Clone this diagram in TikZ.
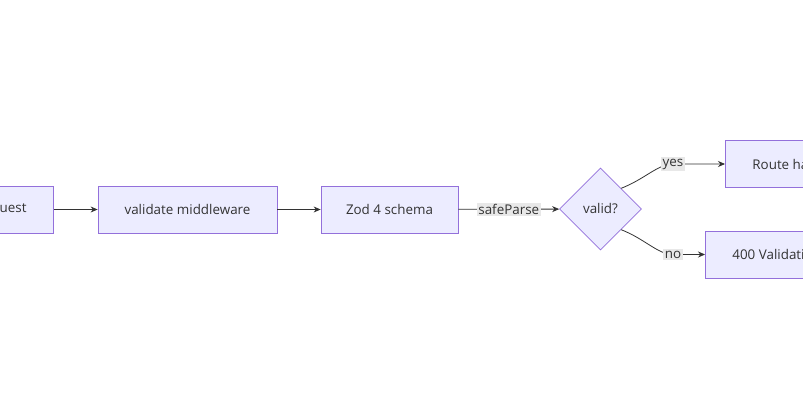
\documentclass[tikz,border=0pt]{standalone}
\usepackage{fontspec}
\setmainfont{Open Sans}
\usepackage{tikz}
\usetikzlibrary{arrows.meta,positioning,shapes.geometric}
\definecolor{nodefill}{HTML}{ECECFF}
\definecolor{nodeline}{HTML}{9370DB}
\definecolor{ink}{HTML}{333333}
\definecolor{tagfill}{HTML}{E8E8E8}

\begin{document}
\begin{tikzpicture}[
  x=1pt,y=-1pt,
  box/.style={draw=nodeline,fill=nodefill,line width=0.8pt,text=ink,
    minimum height=47pt,inner xsep=27pt,font=\fontsize{13.4}{15}\selectfont},
  check/.style={box,shape=diamond,aspect=1,minimum size=82pt,inner sep=0pt},
  flow/.style={-{Stealth[length=7pt,width=6pt]},draw=ink,line width=0.8pt},
  tag/.style={fill=tagfill,text=ink,inner sep=1.5pt,font=\fontsize{13.4}{15}\selectfont}
]
\useasboundingbox (0,0) rectangle (803,420);
\clip (0,0) rectangle (803,420);
\fill[white] (0,0) rectangle (803,420);

\node[box,anchor=east] (request) at (54,209.5) {Request};
\node[box,inner xsep=10pt,minimum width=179pt] (middleware) at (187.5,209.5) {validate middleware};
\node[box,inner xsep=10pt,minimum width=137pt] (schema) at (389.5,209.5) {Zod 4 schema};
\node[check] (valid) at (600.5,209) {valid?};
\node[box,anchor=west] (route) at (725,164) {Route handler};
\node[box,anchor=west] (reject) at (705,254.5) {400 Validation Error};

\draw[flow] (request) -- (middleware);
\draw[flow] (middleware) -- (schema);
\draw[flow] (schema) -- node[tag]{safeParse} (valid);

% branches
\coordinate (yesbend) at (673,164);
\coordinate (nobend) at (673,254.5);
\draw[flow] (valid.north east) .. controls (645,179) and (658,164) .. (yesbend) -- (route.west);
\draw[flow] (valid.south east) .. controls (645,239) and (658,254.5) .. (nobend) -- (reject.west);
\node[tag] (yes) at (yesbend) {yes};
\node[tag] (no) at (nobend) {no};
\end{tikzpicture}
\end{document}
